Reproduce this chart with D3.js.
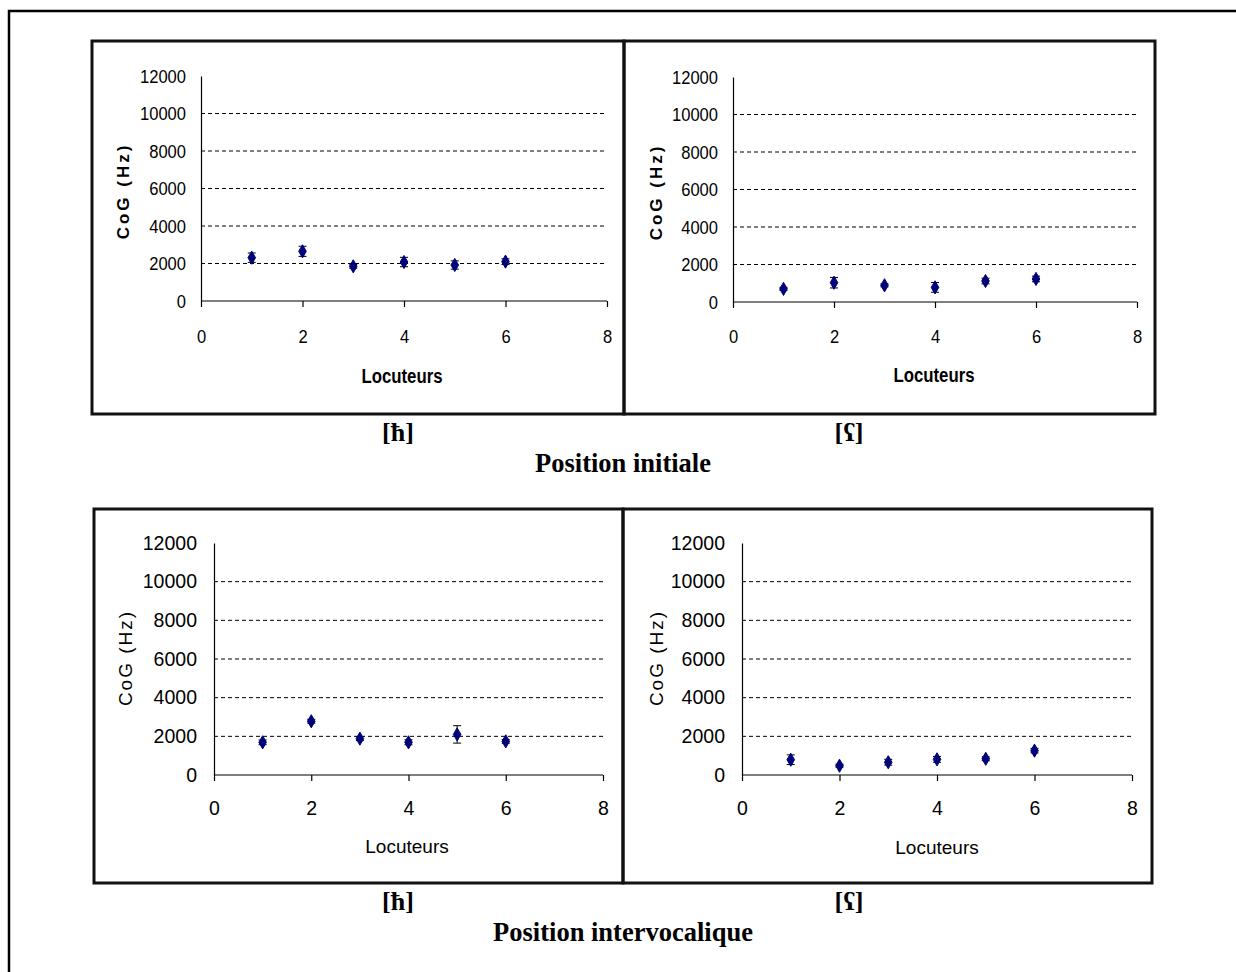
<!DOCTYPE html>
<html><head><meta charset="utf-8">
<script src="https://cdn.jsdelivr.net/npm/d3@7"></script>
<style>body{margin:0;background:#fff}svg{display:block}</style>
</head><body>
<svg id="c" width="1236" height="972"></svg>
<script>
// ---- data ----
const speakers = [1, 2, 3, 4, 5, 6];
const xTicks = [0, 2, 4, 6, 8];
const yTicks = [0, 2000, 4000, 6000, 8000, 10000, 12000];
const hInitMean = [2310, 2650, 1850, 2080, 1920, 2100];
const hInitErr  = [250, 270, 100, 250, 220, 150];
const aInitMean = [700, 1030, 890, 780, 1120, 1230];
const aInitErr  = [80, 280, 80, 260, 150, 150];
const hInterMean = [1690, 2780, 1880, 1690, 2100, 1740];
const hInterErr  = [120, 100, 100, 130, 450, 100];
const aInterMean = [790, 480, 660, 810, 840, 1260];
const aInterErr  = [250, 80, 150, 150, 100, 120];
const yLabel = "CoG (Hz)";
const xLabel = "Locuteurs";
const phonemes = ["[ħ]", "[ʕ]"];
const rowTitles = ["Position initiale", "Position intervocalique"];

const svg = d3.select("#c");
svg.append("path").attr("d","M1236,11 H9 V972").attr("fill","none").attr("stroke","#000").attr("stroke-width",2.5);

const panels = [
  {box:[92,41,624,414], ax:[201,607], ay:[301,76], mean:hInitMean, err:hInitErr, bold:true, tickY:343, lblX:402, lblY:383, ylx:129, yly:191},
  {box:[624,41,1155,414], ax:[733,1137], ay:[302,77], mean:aInitMean, err:aInitErr, bold:true, tickY:343, lblX:934, lblY:382, ylx:662, yly:192},
  {box:[94,509,623,883], ax:[214,603], ay:[775,543], mean:hInterMean, err:hInterErr, bold:false, tickY:815, lblX:407, lblY:853, ylx:132, yly:658},
  {box:[623,509,1152,883], ax:[742,1132], ay:[775,543], mean:aInterMean, err:aInterErr, bold:false, tickY:815, lblX:937, lblY:854, ylx:663, yly:658},
];

function condense(sel, f){
  sel.each(function(){ const L=this.getComputedTextLength(); d3.select(this).attr("textLength",L*f).attr("lengthAdjust","spacingAndGlyphs"); });
}

panels.forEach(p => {
  const g = svg.append("g");
  g.append("rect").attr("x",p.box[0]).attr("y",p.box[1]).attr("width",p.box[2]-p.box[0]).attr("height",p.box[3]-p.box[1])
    .attr("fill","none").attr("stroke","#111").attr("stroke-width",3);
  const x = d3.scaleLinear().domain([0,8]).range(p.ax);
  const y = d3.scaleLinear().domain([0,12000]).range(p.ay);
  const tickFont = "'Liberation Sans', Arial, sans-serif";
  const tickSize = p.bold ? 19 : 19.5;
  g.selectAll(".grid").data(yTicks.filter(d=>d>0 && d<12000)).join("line")
    .attr("x1",p.ax[0]).attr("x2",p.ax[1]).attr("y1",d=>y(d)).attr("y2",d=>y(d))
    .attr("stroke","#000").attr("stroke-width",1).attr("stroke-dasharray","4,3");
  const yAxis = d3.axisLeft(y).tickValues(yTicks).tickSize(0).tickPadding(p.bold?15:17).tickFormat(d3.format("d"));
  const ya = g.append("g").attr("transform",`translate(${p.ax[0]},0)`).call(yAxis);
  ya.select(".domain").attr("stroke","#000").attr("stroke-width",1.2);
  ya.selectAll("text").attr("font-family",tickFont).attr("font-size",tickSize).attr("fill","#000");
  const xAxis = d3.axisBottom(x).tickValues(xTicks).tickSize(6).tickPadding(0).tickFormat(d3.format("d"));
  const xa = g.append("g").attr("transform",`translate(0,${p.ay[0]})`).call(xAxis);
  xa.select(".domain").attr("stroke","#000").attr("stroke-width",1.2).attr("d",`M${p.ax[0]},0H${p.ax[1]}`);
  xa.selectAll("line").attr("stroke","#000").attr("stroke-width",1.2);
  xa.selectAll("text").attr("font-family",tickFont).attr("font-size",tickSize).attr("fill","#000")
    .attr("dy",null).attr("y",p.tickY-p.ay[0]);
  if (p.bold) { condense(ya.selectAll("text"),0.87); condense(xa.selectAll("text"),0.87); }
  const xl = g.append("text").attr("x",p.lblX).attr("y",p.lblY).attr("text-anchor","middle")
    .attr("font-family","'Liberation Sans',sans-serif")
    .attr("font-weight",p.bold?"bold":"normal").attr("font-size",p.bold?20:19).text(xLabel);
  if (p.bold) condense(xl,0.84);
  g.append("text").attr("transform",`translate(${p.ylx},${p.yly}) rotate(-90)`).attr("text-anchor","middle")
    .attr("font-family","'Liberation Sans',sans-serif").attr("font-weight",p.bold?"bold":"normal")
    .attr("font-size",p.bold?17:19).attr("letter-spacing",p.bold?3:2).text(yLabel);
  const eb = g.selectAll(".eb").data(speakers.map((s,i)=>({s, m:p.mean[i], e:p.err[i]}))).join("g");
  eb.append("line").attr("x1",d=>x(d.s)).attr("x2",d=>x(d.s)).attr("y1",d=>y(d.m+d.e)).attr("y2",d=>y(d.m-d.e)).attr("stroke","#000").attr("stroke-width",1);
  eb.append("line").attr("x1",d=>x(d.s)-4).attr("x2",d=>x(d.s)+4).attr("y1",d=>y(d.m+d.e)).attr("y2",d=>y(d.m+d.e)).attr("stroke","#000").attr("stroke-width",1);
  eb.append("line").attr("x1",d=>x(d.s)-4).attr("x2",d=>x(d.s)+4).attr("y1",d=>y(d.m-d.e)).attr("y2",d=>y(d.m-d.e)).attr("stroke","#000").attr("stroke-width",1);
  g.selectAll(".pt").data(speakers.map((s,i)=>({s, m:p.mean[i]}))).join("path")
    .attr("d", d3.symbol().type(d3.symbolDiamond).size(50))
    .attr("transform",d=>`translate(${x(d.s)},${y(d.m)})`)
    .attr("fill","#00007a").attr("stroke","#00007a").attr("stroke-width",1);
});

const capFont = "'Liberation Serif','Times New Roman',serif";
const capRows = [{py:441, ty:472}, {py:910, ty:941}];
capRows.forEach((r,i)=>{
  svg.append("text").attr("x",398).attr("y",r.py).attr("text-anchor","middle").attr("font-family",capFont).attr("font-weight","bold").attr("font-size",26).text(phonemes[0]);
  svg.append("text").attr("x",849).attr("y",r.py).attr("text-anchor","middle").attr("font-family",capFont).attr("font-weight","bold").attr("font-size",26).text(phonemes[1]);
  svg.append("text").attr("x",623).attr("y",r.ty).attr("text-anchor","middle").attr("font-family",capFont).attr("font-weight","bold").attr("font-size",26.5).text(rowTitles[i]);
});
</script>
</body></html>
